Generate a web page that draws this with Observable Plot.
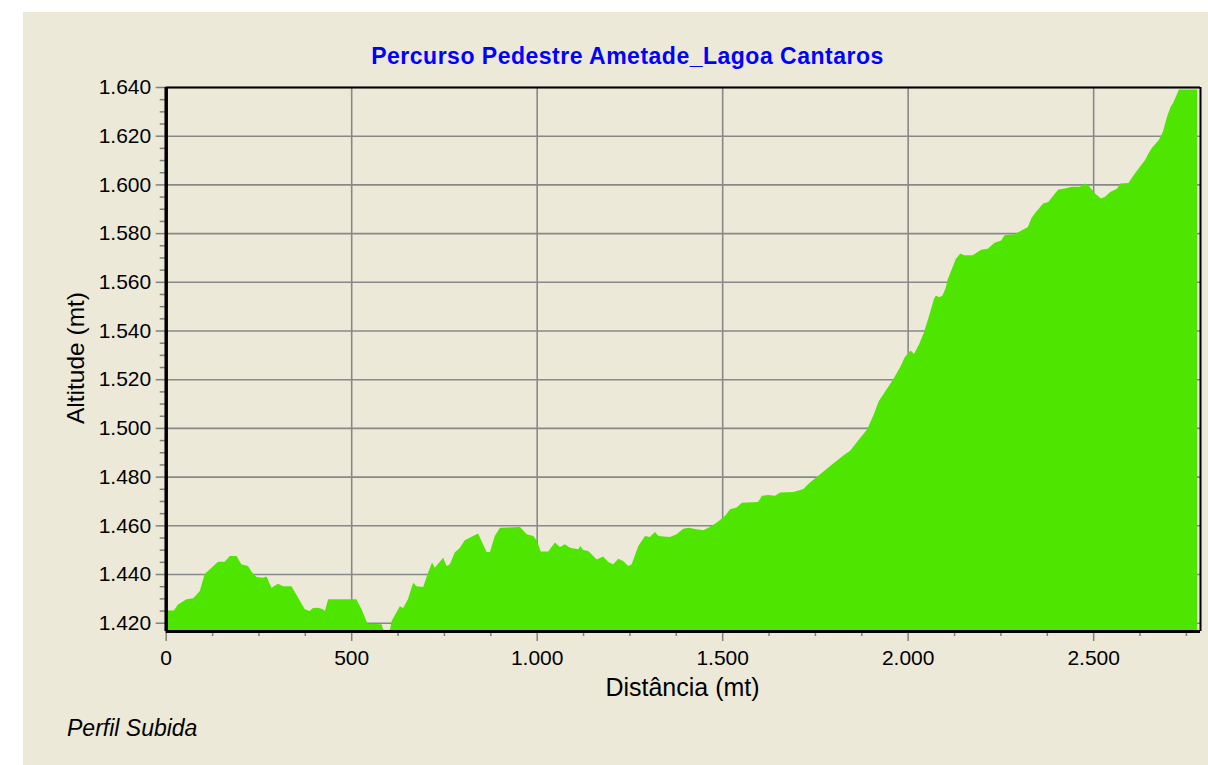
<!DOCTYPE html>
<html><head><meta charset="utf-8">
<script src="https://cdn.jsdelivr.net/npm/d3@7"></script>
<script src="https://cdn.jsdelivr.net/npm/@observablehq/plot@0.6"></script>
<style>
html,body{margin:0;padding:0;background:#fff;overflow:hidden;}
#panel{position:absolute;left:23px;top:12px;width:1185px;height:753px;background:#ECE9D8;}
#chart{position:absolute;left:0;top:0;}
</style></head><body>
<div id="panel"></div>
<div id="chart"></div>
<script>
const title = "Percurso Pedestre Ametade_Lagoa Cantaros";
const xLabel = "Distância (mt)";
const yLabel = "Altitude (mt)";
const caption = "Perfil Subida";

const distance = [0,22,33,56,74,92,105,141,159,173,191,204,222,231,245,262,272,285,303,316,339,352,375,388,397,411,424,429,438,514,528,544,582,586,596,604,609,631,640,653,667,676,694,707,718,725,744,748,757,766,779,793,806,811,842,865,874,887,901,955,973,991,1001,1011,1031,1049,1063,1076,1090,1112,1118,1125,1139,1162,1179,1193,1206,1220,1233,1247,1256,1274,1292,1305,1319,1328,1359,1377,1395,1409,1431,1449,1463,1485,1508,1521,1539,1553,1597,1607,1624,1642,1656,1692,1719,1732,1746,1764,1791,1813,1831,1845,1868,1891,1909,1922,1961,1980,1992,2004,2008,2017,2031,2044,2058,2071,2076,2085,2094,2103,2107,2130,2142,2153,2175,2198,2216,2234,2252,2261,2288,2324,2333,2342,2365,2379,2397,2406,2424,2442,2464,2478,2487,2505,2521,2532,2546,2564,2573,2595,2609,2623,2640,2649,2659,2677,2688,2699,2709,2715,2727,2731,2780];
const altitude = [1425,1425,1427.5,1429.6,1430,1433,1440,1445,1445,1447.4,1447.4,1444,1443.3,1441,1438.8,1438.5,1439,1434.4,1436,1435,1435,1431.6,1425.5,1424.8,1426,1426.1,1425.5,1424.8,1429.6,1429.6,1425.5,1419.6,1419.4,1417.2,1416.8,1416.8,1420.7,1426.8,1426,1429.6,1436.4,1435,1434.7,1440.5,1444.7,1442.6,1446,1446.7,1443.3,1444,1448.8,1450.8,1453.9,1454.3,1456.6,1449,1449,1455.6,1459,1459.3,1456.3,1455.6,1453.6,1449.2,1449.2,1452.9,1451.1,1452.2,1450.8,1450.2,1451.5,1449.9,1449.5,1446,1447.2,1444.9,1444,1446.3,1445.3,1443.3,1444,1451.5,1455.6,1455.2,1457.3,1455.6,1455.2,1456.3,1458.6,1459,1458.4,1458,1459,1461.1,1463.9,1466.6,1467.3,1469.3,1469.6,1472.1,1472.4,1472.1,1473.5,1473.7,1474.9,1477,1478.7,1481,1484.4,1487,1489.2,1490.6,1495.1,1499.5,1505.7,1511,1520,1525,1529,1531.1,1531.8,1530.4,1534.5,1539.3,1546.2,1553,1554.4,1553.7,1554.4,1557.8,1560.6,1569.5,1571.6,1570.9,1570.9,1573.2,1573.6,1576,1577,1579.1,1579.5,1582.5,1586,1588,1592.2,1592.8,1596.3,1597.9,1598.3,1599,1599,1600.4,1599.7,1596.3,1594.2,1594.9,1596.9,1598.2,1600.4,1600.6,1603.8,1606.6,1610,1612.7,1615.2,1618.2,1621.6,1627.8,1631.9,1633.3,1637.4,1639,1639];

const xMajorTicks = [0,500,1000,1500,2000,2500];
const xMinorTicks = [125,250,375,625,750,875,1125,1250,1375,1625,1750,1875,2125,2250,2375,2625,2750];
const yMajorTicks = [1420,1440,1460,1480,1500,1520,1540,1560,1580,1600,1620,1640];
const yMinorTicks = d3.range(1420, 1641, 5).filter(v => v % 20 !== 0);
const xDomain = [0, 2788];
const yDomain = [1416.6, 1640];

const data = distance.map((d, i) => ({d, alt: altitude[i]}));
const fmt = d3.formatLocale({decimal: ",", thousands: ".", grouping: [3], currency: ["", ""]}).format(",d");
const FONT = "'Liberation Sans', Arial, Helvetica, sans-serif";
const grid = "#888888";
const tickCol = "#808080";

const plot = Plot.plot({
  width: 1208,
  height: 765,
  marginLeft: 165.7,
  marginRight: 8,
  marginTop: 87,
  marginBottom: 134,
  style: {background: "transparent", fontFamily: FONT, color: "#000", overflow: "visible"},
  x: {domain: xDomain, label: null},
  y: {domain: yDomain, label: null},
  marks: [
    Plot.gridX(xMajorTicks.filter(v => v > 0), {stroke: grid, strokeOpacity: 1, strokeWidth: 1.6}),
    Plot.gridY(yMajorTicks, {stroke: grid, strokeOpacity: 1, strokeWidth: 1.6}),
    Plot.areaY(data, {x: "d", y1: yDomain[0], y2: "alt", fill: "#4EE600"}),
    Plot.axisY(yMinorTicks, {tickSize: 6, tickFormat: () => "", stroke: tickCol, strokeWidth: 1.5, label: null}),
    Plot.axisY(yMajorTicks, {tickSize: 10, tickPadding: 5, tickFormat: fmt, fontSize: 21, stroke: tickCol, strokeWidth: 1.5, fill: "#000", label: null}),
    Plot.axisX(xMinorTicks, {tickSize: 5, tickFormat: () => "", stroke: tickCol, strokeWidth: 1.5, label: null}),
    Plot.axisX(xMajorTicks, {tickSize: 10, tickPadding: 9, tickFormat: fmt, fontSize: 21, stroke: tickCol, strokeWidth: 1.5, fill: "#000", label: null}),
    Plot.ruleY([yDomain[1]], {stroke: "#000", strokeWidth: 2}),
    Plot.ruleX([xDomain[1]], {stroke: "#000", strokeWidth: 2}),
    Plot.ruleY([yDomain[0]], {stroke: "#000", strokeWidth: 3}),
    Plot.ruleX([xDomain[0]], {stroke: "#000", strokeWidth: 3.5})
  ]
});

document.getElementById("chart").appendChild(plot);
const svg = d3.select(plot);
svg.append("text").attr("x", 627.5).attr("y", 64).attr("text-anchor", "middle")
  .attr("font-family", FONT).attr("font-size", 23).attr("font-weight", "bold")
  .attr("letter-spacing", "0.5px").attr("fill", "#0000FF").text(title);
svg.append("text").attr("x", 682.5).attr("y", 696).attr("text-anchor", "middle")
  .attr("font-family", FONT).attr("font-size", 25).attr("fill", "#000").text(xLabel);
svg.append("text").attr("transform", "translate(84,358) rotate(-90)").attr("text-anchor", "middle")
  .attr("font-family", FONT).attr("font-size", 24.5).attr("fill", "#000").text(yLabel);
svg.append("text").attr("x", 67).attr("y", 736).attr("text-anchor", "start")
  .attr("font-family", FONT).attr("font-size", 23).attr("font-style", "italic").attr("fill", "#000").text(caption);
</script>
</body></html>
